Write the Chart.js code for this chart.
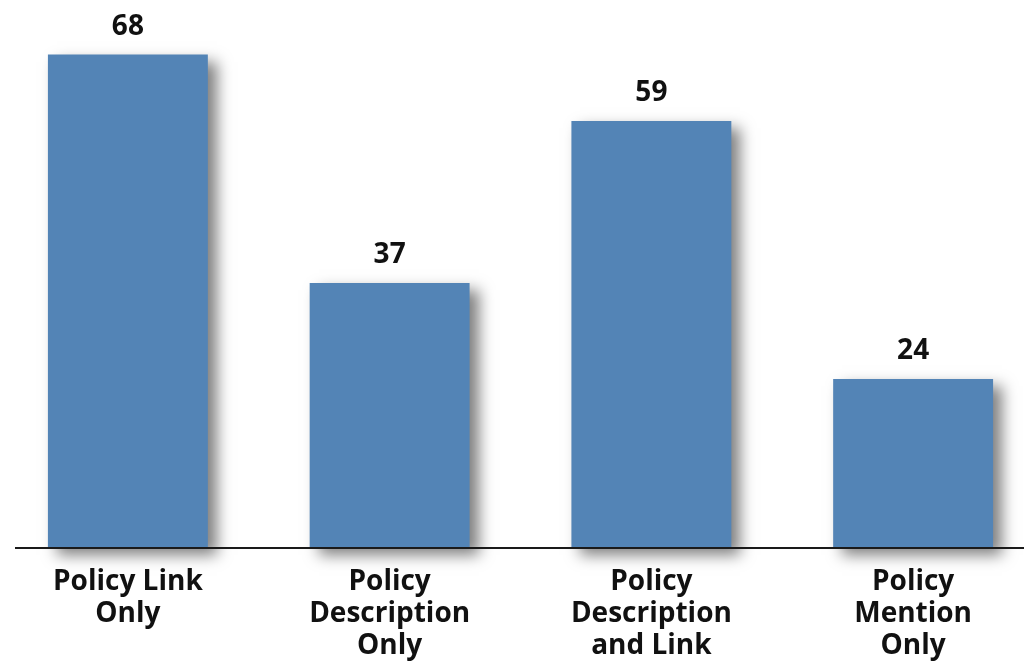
<!DOCTYPE html>
<html>
<head>
<meta charset="utf-8">
<script src="https://cdn.jsdelivr.net/npm/chart.js@4.4.1/dist/chart.umd.min.js"></script>
<style>
    html, body { margin: 0; padding: 0; background: #fff; overflow: hidden; }
    #wrap { position: absolute; left: -3px; top: 0; width: 1047px; height: 661px; }
</style>
</head>
<body>
<div id="wrap"><canvas id="policyChart" width="1047" height="661"></canvas></div>
<script>
// categories and counts
const categories = [
    ['Policy Link', 'Only'],
    ['Policy', 'Description', 'Only'],
    ['Policy', 'Description', 'and Link'],
    ['Policy', 'Mention', 'Only']
];
const counts = [68, 37, 59, 24];

// bars in the original don't start exactly at zero on the baseline
const yMin = 1.06;
const yMax = 75.4;
const labelFont = '"Open Sans", sans-serif';

// drop shadow on the bars + value labels + the baseline
const barExtras = {
    id: 'barExtras',
    beforeDatasetsDraw(chart) {
        const ctx = chart.ctx;
        ctx.save();
        ctx.shadowColor = 'rgba(0, 0, 0, 0.5)';
        ctx.shadowBlur = 14;
        ctx.shadowOffsetX = 9;
        ctx.shadowOffsetY = 7;
    },
    afterDatasetsDraw(chart) {
        const ctx = chart.ctx;
        ctx.restore();

        // baseline
        const base = chart.chartArea.bottom;
        ctx.save();
        ctx.strokeStyle = '#1a1a1a';
        ctx.lineWidth = 2;
        ctx.beginPath();
        ctx.moveTo(18, base);
        ctx.lineTo(chart.width, base);
        ctx.stroke();

        // numbers above each bar
        ctx.fillStyle = '#111';
        ctx.font = 'bold 28px ' + labelFont;
        ctx.textAlign = 'center';
        ctx.textBaseline = 'middle';
        const meta = chart.getDatasetMeta(0);
        meta.data.forEach((bar, i) => {
            ctx.fillText(counts[i], bar.x, bar.y - 28);
        });
        ctx.restore();
    }
};

const ctx = document.getElementById('policyChart').getContext('2d');
new Chart(ctx, {
    type: 'bar',
    data: {
        labels: categories,
        datasets: [{
            data: counts,
            backgroundColor: '#5384b6',
            borderWidth: 0,
            base: yMin,
            clip: false,
            categoryPercentage: 1.0,
            barPercentage: 0.611
        }]
    },
    options: {
        responsive: false,
        animation: false,
        layout: { padding: { top: 0, left: 0, right: 0, bottom: -19 } },
        plugins: {
            legend: { display: false },
            tooltip: { enabled: false }
        },
        scales: {
            x: {
                grid: { display: false, drawTicks: false },
                border: { display: false },
                ticks: {
                    color: '#111',
                    padding: 18,
                    autoSkip: false,
                    maxRotation: 0,
                    font: { family: labelFont, size: 28, weight: 'bold', lineHeight: 1.143 }
                }
            },
            y: {
                display: false,
                min: yMin,
                max: yMax
            }
        }
    },
    plugins: [barExtras]
});
</script>
</body>
</html>
